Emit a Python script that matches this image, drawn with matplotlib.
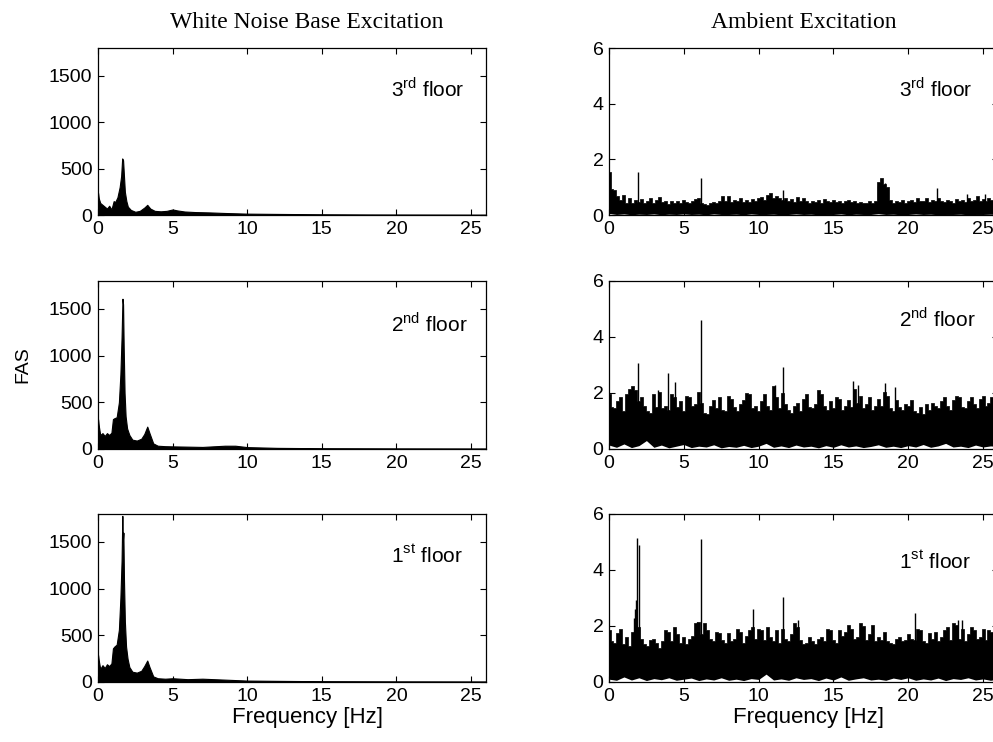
import matplotlib
matplotlib.use("Agg")
import matplotlib.pyplot as plt
import numpy as np

plt.rcParams['font.family'] = ['Liberation Sans', 'DejaVu Sans']
plt.rcParams['mathtext.fontset'] = 'custom'
plt.rcParams['mathtext.rm'] = 'Liberation Sans'

# --- White noise base excitation: FAS envelope (freq in Hz, amplitude) ---
wn3_f = [0, 0.05, 0.15, 0.3, 0.45, 0.6, 0.75, 0.9, 1.05, 1.15, 1.3, 1.45, 1.55, 1.62, 1.68, 1.74,
         1.8, 1.9, 2.0, 2.2, 2.5, 2.8, 3.1, 3.3, 3.5, 3.8, 4.2, 4.6, 5.0, 5.3, 5.8, 6.5, 7.5, 8.5,
         10, 12, 15, 18, 22, 26]
wn3_a = [240, 180, 130, 110, 90, 70, 100, 60, 150, 140, 190, 300, 420, 610, 590, 420,
         250, 150, 90, 55, 35, 45, 80, 110, 70, 45, 40, 45, 60, 50, 38, 32, 28, 22,
         15, 12, 8, 6, 5, 4]

wn2_f = [0, 0.05, 0.15, 0.3, 0.45, 0.6, 0.75, 0.9, 1.0, 1.1, 1.25, 1.4, 1.5, 1.58, 1.64, 1.68,
         1.72, 1.78, 1.85, 1.95, 2.1, 2.3, 2.6, 2.9, 3.1, 3.3, 3.45, 3.7, 4.0, 4.5, 5.0, 6, 7,
         8.5, 9.2, 10, 12, 15, 20, 26]
wn2_a = [320, 250, 150, 170, 140, 170, 150, 175, 320, 330, 340, 500, 800, 1200, 1610, 1550,
         1100, 600, 350, 220, 150, 100, 90, 110, 160, 240, 170, 60, 35, 30, 28, 25, 22,
         35, 35, 20, 12, 8, 6, 5]

wn1_f = [0, 0.05, 0.15, 0.3, 0.45, 0.6, 0.75, 0.9, 1.0, 1.1, 1.25, 1.4, 1.5, 1.58, 1.63, 1.66,
         1.70, 1.74, 1.8, 1.88, 1.98, 2.1, 2.3, 2.6, 2.9, 3.1, 3.3, 3.45, 3.7, 4.0, 4.5, 5.0,
         6, 7, 8.5, 10, 12, 15, 20, 26]
wn1_a = [290, 230, 140, 180, 150, 190, 170, 200, 360, 380, 400, 560, 900, 1300, 1780, 1500,
         1600, 1100, 650, 380, 250, 160, 110, 100, 120, 170, 230, 160, 60, 40, 35, 40,
         30, 35, 25, 15, 12, 8, 6, 5]

# --- Ambient excitation: upper envelope every 0.2 Hz (0..26 Hz) ---
amb3_top = [1.55, 0.95, 0.90, 0.70, 0.55, 0.72, 0.45, 0.60, 0.42, 0.55,
            0.48, 0.58, 0.44, 0.50, 0.62, 0.45, 0.55, 0.66, 0.48, 0.52,
            0.40, 0.50, 0.45, 0.52, 0.42, 0.55, 0.48, 0.45, 0.50, 0.58,
            0.62, 0.45, 0.40, 0.35, 0.42, 0.48, 0.45, 0.52, 0.68, 0.50,
            0.70, 0.48, 0.55, 0.50, 0.62, 0.46, 0.55, 0.48, 0.58, 0.52,
            0.60, 0.65, 0.55, 0.72, 0.78, 0.62, 0.70, 0.60, 0.55, 0.62,
            0.50, 0.58, 0.48, 0.66, 0.52, 0.60, 0.50, 0.45, 0.52, 0.48,
            0.55, 0.45, 0.58, 0.50, 0.46, 0.55, 0.48, 0.52, 0.45, 0.50,
            0.55, 0.48, 0.52, 0.45, 0.48, 0.42, 0.45, 0.50, 0.44, 0.52,
            1.20, 1.32, 1.10, 1.00, 0.55, 0.45, 0.52, 0.48, 0.55, 0.45,
            0.50, 0.55, 0.48, 0.60, 0.52, 0.50, 0.62, 0.48, 0.55, 0.50,
            0.60, 0.52, 0.48, 0.55, 0.50, 0.45, 0.58, 0.52, 0.55, 0.48,
            0.62, 0.50, 0.55, 0.68, 0.52, 0.58, 0.50, 0.62, 0.55, 0.50,
            0.55]
amb2_top = [1.95, 1.50, 1.45, 1.70, 1.85, 1.35, 1.95, 2.15, 2.25, 2.10,
            1.70, 1.85, 1.55, 1.35, 1.30, 1.95, 1.50, 2.05, 1.45, 1.55,
            1.40, 1.95, 1.85, 1.50, 1.70, 1.35, 1.90, 1.85, 1.55, 1.60,
            2.05, 1.65, 1.30, 1.25, 1.55, 1.75, 1.45, 1.85, 1.40, 1.35,
            1.90, 1.80, 1.50, 1.35, 1.60, 1.75, 2.00, 1.95, 1.45, 1.55,
            1.35, 1.70, 1.95, 1.55, 1.40, 2.25, 1.85, 1.45, 2.00, 1.60,
            1.40, 1.30, 1.55, 1.65, 1.35, 1.80, 1.95, 1.50, 1.45, 1.60,
            2.10, 1.95, 1.55, 1.40, 1.70, 1.45, 1.85, 1.80, 1.40, 1.55,
            1.75, 1.50, 2.15, 1.65, 1.90, 1.45, 1.60, 1.85, 1.40, 1.55,
            1.80, 1.55, 2.05, 1.90, 1.45, 1.35, 1.75, 1.50, 1.40, 1.60,
            1.55, 1.75, 1.35, 1.30, 1.50, 1.25, 1.60, 1.40, 1.65, 1.55,
            1.45, 1.70, 1.85, 1.55, 1.40, 1.75, 1.90, 1.85, 1.50, 1.45,
            1.70, 1.85, 1.60, 1.45, 1.80, 1.90, 1.55, 1.65, 1.85, 1.75,
            1.80]
amb1_top = [1.85, 1.45, 1.40, 1.75, 1.90, 1.35, 1.60, 1.30, 1.80, 2.00,
            1.95, 1.55, 1.35, 1.30, 1.50, 1.55, 1.40, 1.20, 1.45, 1.85,
            1.80, 1.45, 1.95, 1.70, 1.40, 1.60, 1.35, 1.55, 1.65, 2.10,
            2.15, 1.70, 2.10, 1.85, 1.55, 1.45, 1.80, 1.75, 1.50, 1.40,
            1.75, 1.45, 1.55, 1.90, 1.80, 1.40, 1.65, 1.85, 1.95, 1.55,
            1.90, 1.85, 1.50, 1.95, 1.60, 1.45, 1.85, 1.40, 1.90, 1.55,
            1.45, 1.70, 2.10, 1.95, 1.50, 1.35, 1.40, 1.60, 1.45, 1.35,
            1.55, 1.60, 1.45, 1.90, 1.85, 1.50, 1.40, 1.85, 1.65, 1.80,
            2.05, 1.90, 1.55, 1.60, 2.10, 2.00, 1.50, 1.70, 2.05, 1.45,
            1.60, 1.50, 1.80, 1.45, 1.40, 1.35, 1.55, 1.60, 1.45, 1.50,
            1.70, 1.55, 1.50, 1.90, 1.85, 1.45, 1.40, 1.75, 1.55, 1.80,
            1.45, 1.60, 1.85, 1.95, 1.50, 2.10, 2.05, 1.55, 1.90, 1.45,
            1.70, 1.95, 1.85, 1.55, 1.60, 1.90, 1.50, 1.85, 1.80, 1.65,
            1.80]

# lower envelope every 0.5 Hz (0..26 Hz)
amb3_bot = [0.06, 0.02, 0.04, 0.01, 0.03, 0.02, 0.04, 0.01, 0.03, 0.02,
            0.04, 0.02, 0.03, 0.01, 0.04, 0.02, 0.02, 0.03, 0.01, 0.04,
            0.02, 0.02, 0.03, 0.01, 0.02, 0.04, 0.02, 0.03, 0.01, 0.02,
            0.02, 0.04, 0.01, 0.03, 0.02, 0.02, 0.05, 0.02, 0.03, 0.01,
            0.02, 0.04, 0.02, 0.03, 0.01, 0.02, 0.02, 0.03, 0.01, 0.02,
            0.02, 0.03, 0.02]
amb2_bot = [0.14, 0.06, 0.18, 0.05, 0.12, 0.30, 0.06, 0.14, 0.04, 0.10,
            0.16, 0.05, 0.10, 0.07, 0.15, 0.04, 0.09, 0.06, 0.13, 0.05,
            0.10, 0.20, 0.06, 0.11, 0.05, 0.14, 0.07, 0.10, 0.04, 0.12,
            0.06, 0.15, 0.07, 0.11, 0.05, 0.09, 0.15, 0.06, 0.10, 0.05,
            0.12, 0.07, 0.16, 0.06, 0.11, 0.20, 0.07, 0.10, 0.05, 0.14,
            0.07, 0.11, 0.09]
amb1_bot = [0.10, 0.06, 0.18, 0.07, 0.15, 0.05, 0.12, 0.08, 0.15, 0.06,
            0.10, 0.14, 0.05, 0.11, 0.07, 0.15, 0.06, 0.10, 0.05, 0.12,
            0.09, 0.28, 0.07, 0.11, 0.06, 0.15, 0.09, 0.12, 0.05, 0.14,
            0.07, 0.18, 0.06, 0.11, 0.15, 0.07, 0.10, 0.06, 0.14, 0.09,
            0.15, 0.06, 0.11, 0.07, 0.14, 0.05, 0.12, 0.09, 0.15, 0.07,
            0.11, 0.06, 0.10]

# isolated spikes (freq Hz, amplitude)
amb3_spk_f = [1.96, 6.13, 11.6, 17.95, 18.15, 18.45, 21.9, 23.9, 25.1]
amb3_spk_a = [1.53, 1.32, 0.90, 1.05, 1.30, 1.15, 0.98, 0.75, 0.75]
amb2_spk_f = [1.95, 3.30, 3.97, 4.41, 6.13, 11.10, 11.65, 16.33, 16.67, 18.45, 19.10]
amb2_spk_a = [3.06, 2.10, 2.70, 2.38, 4.60, 2.29, 2.92, 2.43, 2.29, 2.35, 2.20]
amb1_spk_f = [1.70, 1.76, 1.82, 1.89, 1.99, 5.9, 6.13, 9.65, 11.6, 12.6, 20.45, 23.3, 23.6]
amb1_spk_a = [2.30, 2.60, 2.93, 5.13, 4.90, 2.15, 5.12, 2.60, 3.05, 2.20, 2.45, 2.20, 2.20]

floors = ['3$^{\\mathrm{rd}}$ floor', '2$^{\\mathrm{nd}}$ floor', '1$^{\\mathrm{st}}$ floor']

f_top = np.linspace(0, 26, len(amb3_top))
f_bot = np.linspace(0, 26, len(amb3_bot))

fig = plt.figure(figsize=(9.93, 7.42), dpi=100)

rows = [(0.7102, 0.2251), (0.3949, 0.2264), (0.0809, 0.2264)]
wn_data = [(wn3_f, wn3_a), (wn2_f, wn2_a), (wn1_f, wn1_a)]
amb_data = [(amb3_top, amb3_bot, amb3_spk_f, amb3_spk_a),
            (amb2_top, amb2_bot, amb2_spk_f, amb2_spk_a),
            (amb1_top, amb1_bot, amb1_spk_f, amb1_spk_a)]
lab_pos_l = [0.707, 0.70, 0.71]
lab_pos_r = [0.707, 0.73, 0.67]


def style(ax, ylim, yticks):
    ax.set_xlim(0, 26)
    ax.set_ylim(*ylim)
    ax.set_xticks([0, 5, 10, 15, 20, 25])
    ax.set_yticks(yticks)
    ax.tick_params(direction='in', top=True, right=True, length=4, width=0.8,
                   labelsize=14, pad=4)
    for s in ax.spines.values():
        s.set_linewidth(0.9)


for i, (yb, h) in enumerate(rows):
    # left column
    ax = fig.add_axes([0.0987, yb, 0.3907, h])
    f, a = wn_data[i]
    ax.fill_between(f, 0, a, color='black', lw=0.8)
    style(ax, (0, 1800), [0, 500, 1000, 1500])
    ax.text(0.755, lab_pos_l[i], floors[i], transform=ax.transAxes, fontsize=15,
            ha='left', va='baseline')
    if i == 1:
        ax.set_ylabel('FAS', fontsize=14, labelpad=13)
    if i == 2:
        ax.set_xlabel('Frequency [Hz]', fontsize=16)
        ax.xaxis.set_label_coords(0.54, -0.15)

    # right column
    ax = fig.add_axes([0.6133, yb, 0.3917, h])
    top, bot, sf, sa = amb_data[i]
    ax.fill_between(f_top, 0, top, step='mid', color='black', lw=0.5)
    ax.fill_between(f_bot, 0, bot, color='white', lw=0)
    ax.vlines(sf, 0.3, sa, color='black', lw=1.0)
    style(ax, (0, 6), [0, 2, 4, 6])
    ax.text(0.745, lab_pos_r[i], floors[i], transform=ax.transAxes, fontsize=15,
            ha='left', va='baseline')
    if i == 2:
        ax.set_xlabel('Frequency [Hz]', fontsize=16)
        ax.xaxis.set_label_coords(0.512, -0.15)

fig.text(307 / 993, 1 - 22 / 742, 'White Noise Base Excitation', family='Liberation Serif',
         fontsize=17, ha='center', va='center')
fig.text(804 / 993, 1 - 22 / 742, 'Ambient Excitation', family='Liberation Serif',
         fontsize=17, ha='center', va='center')

fig.savefig('out.png', dpi=100)
